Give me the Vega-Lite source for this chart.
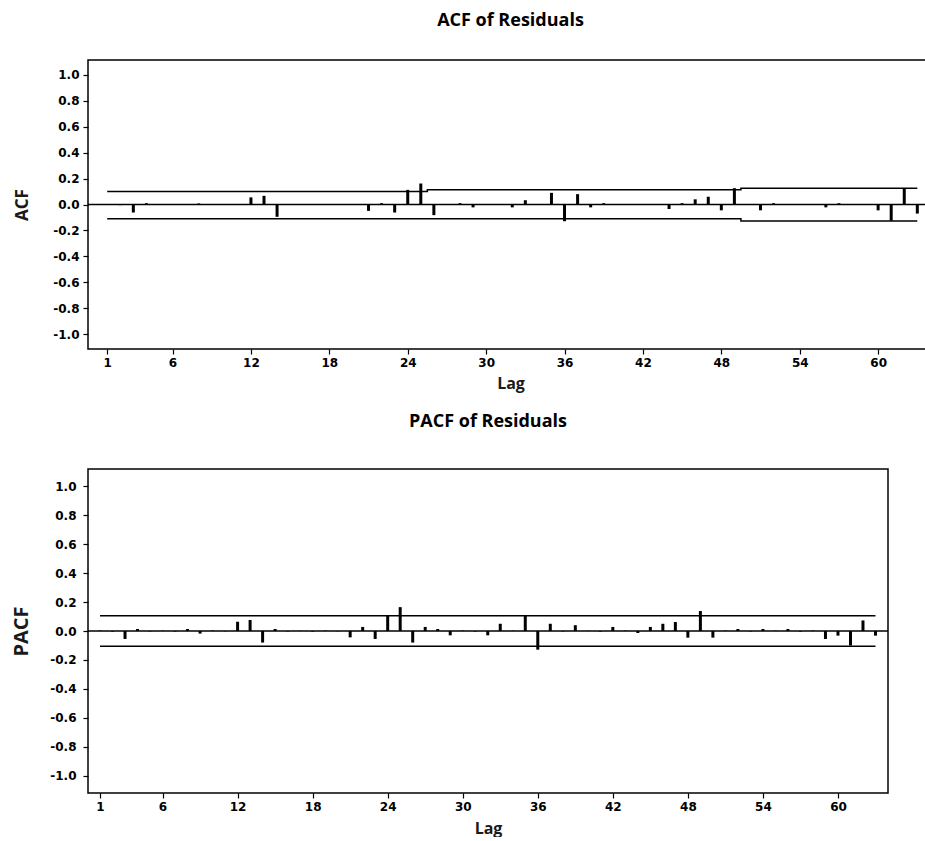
{
  "$schema": "https://vega.github.io/schema/vega-lite/v6.json",
  "background": "white",
  "padding": {"top": 11, "left": 11, "right": 0, "bottom": 0},
  "config": {
    "view": {"stroke": "black", "strokeWidth": 1.5},
    "axis": {
      "grid": false,
      "domain": false,
      "tickColor": "black",
      "tickWidth": 1.2,
      "labelColor": "black",
      "labelFont": "DejaVu Sans",
      "labelFontWeight": "bold",
      "labelFontSize": 12,
      "labelOverlap": false,
      "titleFont": "Open Sans",
      "titleFontWeight": "bold",
      "titleColor": "#1a1a1a"
    },
    "title": {"font": "Open Sans", "fontWeight": "bold", "fontSize": 18, "color": "black", "anchor": "middle"}
  },
  "datasets": {
    "acf": [
      {"lag": 1, "acf": 0.004}, {"lag": 2, "acf": -0.005}, {"lag": 3, "acf": -0.062}, {"lag": 4, "acf": 0.01},
      {"lag": 5, "acf": 0.003}, {"lag": 6, "acf": -0.004}, {"lag": 7, "acf": 0.002}, {"lag": 8, "acf": 0.008},
      {"lag": 9, "acf": -0.003}, {"lag": 10, "acf": 0.002}, {"lag": 11, "acf": -0.004}, {"lag": 12, "acf": 0.055},
      {"lag": 13, "acf": 0.067}, {"lag": 14, "acf": -0.095}, {"lag": 15, "acf": 0.003}, {"lag": 16, "acf": -0.002},
      {"lag": 17, "acf": 0.004}, {"lag": 18, "acf": -0.003}, {"lag": 19, "acf": 0.002}, {"lag": 20, "acf": -0.004},
      {"lag": 21, "acf": -0.049}, {"lag": 22, "acf": 0.01}, {"lag": 23, "acf": -0.062}, {"lag": 24, "acf": 0.113},
      {"lag": 25, "acf": 0.162}, {"lag": 26, "acf": -0.082}, {"lag": 27, "acf": 0.004}, {"lag": 28, "acf": 0.01},
      {"lag": 29, "acf": -0.022}, {"lag": 30, "acf": 0.003}, {"lag": 31, "acf": -0.004}, {"lag": 32, "acf": -0.022},
      {"lag": 33, "acf": 0.033}, {"lag": 34, "acf": 0.002}, {"lag": 35, "acf": 0.09}, {"lag": 36, "acf": -0.129},
      {"lag": 37, "acf": 0.08}, {"lag": 38, "acf": -0.022}, {"lag": 39, "acf": 0.01}, {"lag": 40, "acf": -0.003},
      {"lag": 41, "acf": 0.002}, {"lag": 42, "acf": -0.004}, {"lag": 43, "acf": 0.003}, {"lag": 44, "acf": -0.035},
      {"lag": 45, "acf": 0.01}, {"lag": 46, "acf": 0.04}, {"lag": 47, "acf": 0.06}, {"lag": 48, "acf": -0.045},
      {"lag": 49, "acf": 0.126}, {"lag": 50, "acf": 0.003}, {"lag": 51, "acf": -0.045}, {"lag": 52, "acf": 0.01},
      {"lag": 53, "acf": -0.003}, {"lag": 54, "acf": 0.002}, {"lag": 55, "acf": -0.004}, {"lag": 56, "acf": -0.022},
      {"lag": 57, "acf": 0.01}, {"lag": 58, "acf": 0.003}, {"lag": 59, "acf": -0.004}, {"lag": 60, "acf": -0.045},
      {"lag": 61, "acf": -0.125}, {"lag": 62, "acf": 0.12}, {"lag": 63, "acf": -0.07}
    ],
    "acfLimits": [
      {"lag": 1, "upper": 0.1, "lower": -0.11},
      {"lag": 25, "upper": 0.1, "lower": -0.11},
      {"lag": 26, "upper": 0.113, "lower": -0.11},
      {"lag": 49, "upper": 0.113, "lower": -0.11},
      {"lag": 50, "upper": 0.126, "lower": -0.127},
      {"lag": 63, "upper": 0.126, "lower": -0.127}
    ],
    "pacf": [
      {"lag": 1, "pacf": 0.003}, {"lag": 2, "pacf": -0.004}, {"lag": 3, "pacf": -0.055}, {"lag": 4, "pacf": 0.014},
      {"lag": 5, "pacf": -0.003}, {"lag": 6, "pacf": 0.002}, {"lag": 7, "pacf": -0.004}, {"lag": 8, "pacf": 0.014},
      {"lag": 9, "pacf": -0.018}, {"lag": 10, "pacf": 0.003}, {"lag": 11, "pacf": -0.002}, {"lag": 12, "pacf": 0.064},
      {"lag": 13, "pacf": 0.076}, {"lag": 14, "pacf": -0.08}, {"lag": 15, "pacf": 0.014}, {"lag": 16, "pacf": -0.003},
      {"lag": 17, "pacf": 0.002}, {"lag": 18, "pacf": -0.004}, {"lag": 19, "pacf": 0.003}, {"lag": 20, "pacf": -0.002},
      {"lag": 21, "pacf": -0.044}, {"lag": 22, "pacf": 0.028}, {"lag": 23, "pacf": -0.055}, {"lag": 24, "pacf": 0.108},
      {"lag": 25, "pacf": 0.165}, {"lag": 26, "pacf": -0.08}, {"lag": 27, "pacf": 0.028}, {"lag": 28, "pacf": 0.014},
      {"lag": 29, "pacf": -0.03}, {"lag": 30, "pacf": 0.003}, {"lag": 31, "pacf": -0.004}, {"lag": 32, "pacf": -0.03},
      {"lag": 33, "pacf": 0.05}, {"lag": 34, "pacf": 0.002}, {"lag": 35, "pacf": 0.108}, {"lag": 36, "pacf": -0.129},
      {"lag": 37, "pacf": 0.05}, {"lag": 38, "pacf": -0.003}, {"lag": 39, "pacf": 0.04}, {"lag": 40, "pacf": 0.002},
      {"lag": 41, "pacf": -0.004}, {"lag": 42, "pacf": 0.028}, {"lag": 43, "pacf": 0.003}, {"lag": 44, "pacf": -0.014},
      {"lag": 45, "pacf": 0.028}, {"lag": 46, "pacf": 0.05}, {"lag": 47, "pacf": 0.062}, {"lag": 48, "pacf": -0.046},
      {"lag": 49, "pacf": 0.138}, {"lag": 50, "pacf": -0.046}, {"lag": 51, "pacf": 0.003}, {"lag": 52, "pacf": 0.014},
      {"lag": 53, "pacf": -0.003}, {"lag": 54, "pacf": 0.014}, {"lag": 55, "pacf": 0.002}, {"lag": 56, "pacf": 0.014},
      {"lag": 57, "pacf": -0.004}, {"lag": 58, "pacf": 0.003}, {"lag": 59, "pacf": -0.055}, {"lag": 60, "pacf": -0.032},
      {"lag": 61, "pacf": -0.1}, {"lag": 62, "pacf": 0.073}, {"lag": 63, "pacf": -0.032}
    ],
    "pacfLimits": [
      {"lag": 1, "upper": 0.105, "lower": -0.105},
      {"lag": 63, "upper": 0.105, "lower": -0.105}
    ],
    "baseline": [{"zero": 0}]
  },
  "spacing": 20,
  "vconcat": [
    {
      "title": {"text": "ACF of Residuals", "offset": 30},
      "width": 845,
      "height": 289,
      "layer": [
        {
          "data": {"name": "acf"},
          "mark": {"type": "rule", "color": "black", "strokeWidth": 3, "strokeCap": "butt"},
          "encoding": {
            "x": {"field": "lag", "type": "quantitative", "title": "Lag",
                  "scale": {"domain": [-0.47, 64.2], "nice": false, "zero": false},
                  "axis": {"values": [1, 6, 12, 18, 24, 30, 36, 42, 48, 54, 60], "tickCount": 20, "tickSize": 5, "labelPadding": 3, "titleFontSize": 16, "titlePadding": 7, "labelFlush": false}},
            "y": {"field": "acf", "type": "quantitative", "title": "ACF",
                  "scale": {"domain": [-1.115, 1.115], "nice": false, "zero": false},
                  "axis": {"values": [-1, -0.8, -0.6, -0.4, -0.2, 0, 0.2, 0.4, 0.6, 0.8, 1], "tickCount": 20, "format": ".1f", "labelExpr": "replace(datum.label, '\u2212', '-')", "tickSize": 5, "labelPadding": 4, "titleFontSize": 17, "titlePadding": 21.5}},
            "y2": {"datum": 0}
          }
        },
        {
          "data": {"name": "acfLimits"},
          "mark": {"type": "line", "interpolate": "step", "color": "black", "strokeWidth": 1.5},
          "encoding": {
            "x": {"field": "lag", "type": "quantitative", "title": "Lag"},
            "y": {"field": "upper", "type": "quantitative", "title": "ACF"}
          }
        },
        {
          "data": {"name": "acfLimits"},
          "mark": {"type": "line", "interpolate": "step", "color": "black", "strokeWidth": 1.5},
          "encoding": {
            "x": {"field": "lag", "type": "quantitative", "title": "Lag"},
            "y": {"field": "lower", "type": "quantitative", "title": "ACF"}
          }
        },
        {
          "data": {"name": "baseline"},
          "mark": {"type": "rule", "color": "black", "strokeWidth": 1.5},
          "encoding": {
            "y": {"field": "zero", "type": "quantitative", "title": "ACF"}
          }
        }
      ]
    },
    {
      "title": {"text": "PACF of Residuals", "offset": 38},
      "width": 800,
      "height": 324,
      "layer": [
        {
          "data": {"name": "pacf"},
          "mark": {"type": "rule", "color": "black", "strokeWidth": 3, "strokeCap": "butt"},
          "encoding": {
            "x": {"field": "lag", "type": "quantitative", "title": "Lag",
                  "scale": {"domain": [0.04, 64], "nice": false, "zero": false},
                  "axis": {"values": [1, 6, 12, 18, 24, 30, 36, 42, 48, 54, 60], "tickCount": 20, "tickSize": 5, "labelPadding": 3, "titleFontSize": 16, "titlePadding": 8, "labelFlush": false}},
            "y": {"field": "pacf", "type": "quantitative", "title": "PACF",
                  "scale": {"domain": [-1.12, 1.12], "nice": false, "zero": false},
                  "axis": {"values": [-1, -0.8, -0.6, -0.4, -0.2, 0, 0.2, 0.4, 0.6, 0.8, 1], "tickCount": 20, "format": ".1f", "labelExpr": "replace(datum.label, '\u2212', '-')", "tickSize": 5, "labelPadding": 7, "titleFontSize": 20, "titlePadding": 18}},
            "y2": {"datum": 0}
          }
        },
        {
          "data": {"name": "pacfLimits"},
          "mark": {"type": "line", "color": "black", "strokeWidth": 1.5},
          "encoding": {
            "x": {"field": "lag", "type": "quantitative", "title": "Lag"},
            "y": {"field": "upper", "type": "quantitative", "title": "PACF"}
          }
        },
        {
          "data": {"name": "pacfLimits"},
          "mark": {"type": "line", "color": "black", "strokeWidth": 1.5},
          "encoding": {
            "x": {"field": "lag", "type": "quantitative", "title": "Lag"},
            "y": {"field": "lower", "type": "quantitative", "title": "PACF"}
          }
        },
        {
          "data": {"name": "baseline"},
          "mark": {"type": "rule", "color": "black", "strokeWidth": 1.5},
          "encoding": {
            "y": {"field": "zero", "type": "quantitative", "title": "PACF"}
          }
        }
      ]
    }
  ]
}
